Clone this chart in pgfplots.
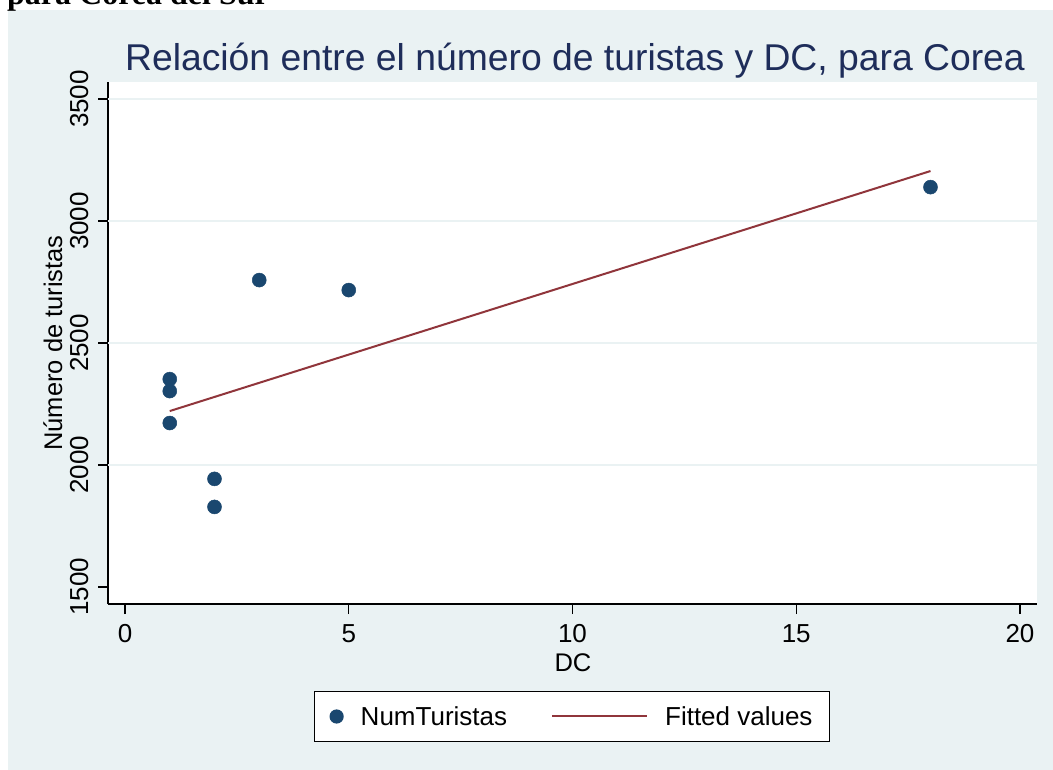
\documentclass[border=0pt]{standalone}
\usepackage{fontspec}
\setmainfont{Liberation Sans}
\newfontfamily\topserif{Liberation Serif}
\usepackage{pgfplots}
\pgfplotsset{compat=1.18}
\definecolor{bgc}{RGB}{234,242,243}
\definecolor{mk}{RGB}{26,71,111}
\definecolor{fitc}{RGB}{144,53,59}
\definecolor{ttl}{RGB}{30,45,90}
\pgfplotstableread{
x y
1 2352
1 2303
1 2172
2 1943
2 1828
3 2758
5 2717
18 3139
}\pts
\pgfplotstableread{
x y
1 2221
18 3205
}\fitted
\begin{document}
\begin{tikzpicture}[x=1pt,y=1pt]
\useasboundingbox (0,0) rectangle (1053,-770);
\fill[bgc] (8,-10) rectangle (1053,-770);
\node[anchor=base west, inner sep=0pt, font=\topserif\bfseries\fontsize{32}{36}\selectfont] at (7,-5) {para Corea del Sur};
\begin{axis}[
  at={(108pt,-604pt)}, anchor=south west,
  scale only axis, width=929pt, height=522pt,
  xmin=-0.38, xmax=20.38, ymin=1430, ymax=3570,
  axis x line*=bottom, axis y line*=left,
  axis line style={line width=1.3pt, -},
  axis background/.style={fill=white},
  xtick={0,5,10,15,20}, ytick={1500,2000,2500,3000,3500},
  tick style={line width=1.3pt, black},
  major tick length=10pt, tick align=outside,
  extra y ticks={2000,2500,3000,3500}, extra y tick labels={},
  extra y tick style={grid=major, major tick length=0pt},
  grid style={bgc, line width=2.5pt},
  /pgf/number format/assume math mode=true,
  /pgf/number format/1000 sep={},
  tick label style={font=\fontsize{26}{30}\selectfont},
  xticklabel style={anchor=base, yshift=-28pt},
  yticklabel style={rotate=90, anchor=base},
  yticklabel shift=10pt,
  label style={font=\fontsize{25.5}{30}\selectfont},
  xlabel={DC},
  xlabel style={at={(axis description cs:0.5005,-0.1284)}, anchor=base},
  ylabel={Número de turistas},
  ylabel style={at={(axis description cs:-0.0495,0.5)}, anchor=base, rotate=0},
  title={Relación entre el número de turistas y DC, para Corea},
  title style={at={(axis description cs:0.5027,1.0096)}, anchor=base, text=ttl, font=\fontsize{37.3}{42}\selectfont},
  legend columns=2,
  legend style={at={(axis description cs:0.4995,-0.2155)}, anchor=center, draw=black, line width=1.2pt, fill=white,
    font=\fontsize{26}{30}\selectfont, inner xsep=15pt, inner ysep=13pt,
    /tikz/every odd column/.append style={column sep=15pt},
    /tikz/every even column/.append style={column sep=42pt}},
  legend cell align=left,
  clip=false,
]
\addplot[only marks, mark=*, mark size=7pt, mark options={draw=mk, fill=mk, line width=0.5pt},
  legend image code/.code={\fill[mk] (0pt,0pt) circle (6.5pt);}] table[x=x,y=y] {\pts};
\addlegendentry{NumTuristas}
\addplot[fitc, line width=2pt, no marks,
  legend image code/.code={\draw[fitc, line width=2pt] (0pt,0pt) -- (95pt,0pt);}] table[x=x,y=y] {\fitted};
\addlegendentry{Fitted values}
\end{axis}
\end{tikzpicture}
\end{document}
